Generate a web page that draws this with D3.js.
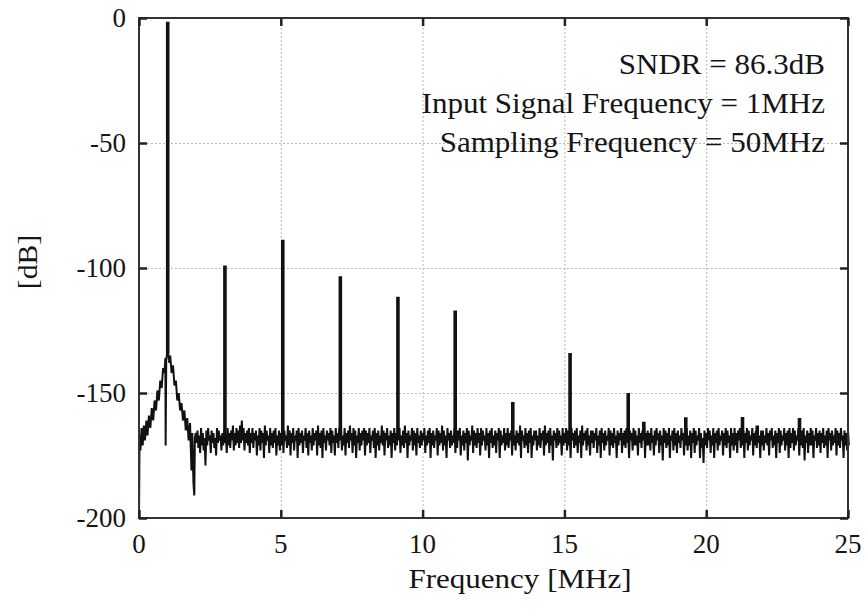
<!DOCTYPE html>
<html>
<head>
<meta charset="UTF-8">
<title>Spectrum</title>
<script src="https://d3js.org/d3.v7.min.js"></script>
<style>
  body { margin: 0; background: #fff; }
  svg text { font-family: "Liberation Serif", "Times New Roman", serif; fill: #151515; }
  .grid line { stroke: #b8b8b8; stroke-width: 1; stroke-dasharray: 2,2; }
  .grid path { display: none; }
</style>
</head>
<body>
<div id="chart"></div>
<script>
// axis ticks
const xTicks = [0, 5, 10, 15, 20, 25];
const yTicks = [0, -50, -100, -150, -200];

// low-frequency part around the input tone (MHz, dB)
const skirtFreq = [0, 0.02, 0.05, 0.09, 0.13, 0.17, 0.21, 0.26, 0.3, 0.35, 0.4, 0.45, 0.5, 0.55, 0.6, 0.65, 0.7, 0.75, 0.8, 0.85, 0.9, 0.93, 0.94, 0.96, 0.99,
  1.03, 1.07, 1.1, 1.15, 1.2, 1.25, 1.3, 1.35, 1.4, 1.45, 1.5, 1.55, 1.6, 1.65, 1.7, 1.75, 1.8, 1.85, 1.88, 1.92, 1.95, 1.97];
const skirtDb = [-200, -167, -173, -164, -171, -163, -169, -161, -167, -159, -164, -156, -161, -153, -157, -149, -153, -145, -148, -140, -142, -136, -171, -137, -134,
  -134, -138, -135, -142, -139, -147, -145, -153, -150, -157, -154, -161, -157, -165, -160, -169, -162, -181, -166, -186, -191, -168];

// noise floor from 2 MHz to 25 MHz, one bin every 0.0625 MHz:
// upper and lower excursion of the trace within each bin
const noiseStart = 2.0;
const noiseStep = 0.0625;
const noiseHigh = [
  -166,-165,-167,-164,-166,-168,-165,-164,-167,-165,-166,-168,-164,-165,-167,-166,
  -165,-167,-164,-166,-165,-163,-166,-164,-165,-163,-161,-164,-166,-165,-164,-166,
  -164,-166,-165,-167,-164,-165,-166,-163,-165,-167,-164,-166,-165,-164,-167,-165,
  -166,-164,-165,-167,-163,-165,-166,-164,-167,-165,-164,-166,-165,-167,-164,-166,
  -165,-167,-164,-166,-165,-163,-166,-165,-164,-167,-165,-166,-164,-165,-167,-164,
  -166,-164,-165,-167,-164,-166,-165,-163,-166,-164,-165,-167,-164,-166,-165,-164,
  -165,-166,-164,-167,-165,-164,-166,-165,-167,-163,-165,-166,-164,-167,-165,-166,
  -164,-166,-165,-164,-167,-165,-163,-166,-165,-167,-164,-165,-166,-164,-167,-165,
  -166,-164,-167,-165,-164,-166,-165,-167,-164,-165,-166,-163,-165,-167,-164,-166,
  -165,-167,-164,-166,-165,-164,-167,-165,-166,-164,-165,-167,-163,-165,-166,-164,
  -166,-164,-165,-167,-164,-166,-165,-164,-167,-165,-166,-164,-165,-167,-164,-166,
  -164,-166,-165,-164,-167,-165,-166,-163,-165,-167,-164,-166,-165,-164,-167,-165,
  -165,-167,-164,-166,-165,-163,-166,-165,-164,-167,-165,-166,-164,-165,-167,-164,
  -166,-164,-165,-167,-164,-166,-165,-164,-167,-165,-163,-166,-165,-164,-167,-165,
  -165,-166,-164,-167,-165,-164,-166,-165,-167,-164,-165,-166,-164,-167,-165,-166,
  -164,-166,-165,-164,-167,-165,-166,-164,-165,-167,-164,-166,-165,-163,-166,-165,
  -166,-164,-167,-165,-164,-166,-165,-167,-164,-165,-166,-164,-167,-165,-164,-166,
  -165,-167,-164,-166,-165,-164,-167,-165,-166,-164,-165,-167,-164,-166,-168,-165,
  -166,-164,-165,-167,-164,-166,-165,-164,-167,-165,-166,-164,-165,-167,-164,-166,
  -164,-166,-165,-164,-167,-165,-166,-164,-165,-167,-164,-166,-165,-164,-167,-165,
  -165,-167,-164,-166,-165,-164,-167,-165,-166,-164,-165,-167,-164,-166,-165,-164,
  -166,-164,-165,-167,-164,-166,-165,-164,-167,-165,-166,-164,-165,-167,-164,-166,
  -165,-166,-164,-167,-165,-164,-166,-165,-167,-164,-165,-166,-164,-167,-165,-166,
  -165
];
const noiseLow = [
  -170,-172,-174,-171,-173,-179,-171,-169,-174,-170,-172,-175,-170,-169,-173,-171,
  -170,-174,-171,-172,-169,-173,-171,-170,-172,-170,-169,-173,-170,-171,-174,-170,
  -172,-169,-175,-171,-173,-170,-176,-171,-169,-174,-171,-172,-170,-175,-171,-173,
  -171,-174,-169,-172,-171,-175,-170,-173,-169,-176,-171,-170,-174,-169,-172,-175,
  -170,-173,-171,-169,-175,-171,-172,-176,-170,-173,-169,-171,-174,-170,-175,-170,
  -172,-169,-173,-171,-175,-170,-172,-169,-174,-171,-176,-170,-173,-171,-169,-175,
  -171,-170,-174,-169,-172,-176,-171,-173,-170,-171,-175,-169,-172,-171,-176,-170,
  -173,-171,-169,-174,-171,-172,-170,-176,-171,-169,-173,-171,-175,-170,-172,-171,
  -169,-174,-171,-170,-176,-171,-172,-169,-175,-171,-170,-173,-171,-176,-169,-172,
  -171,-170,-174,-172,-169,-175,-171,-173,-170,-177,-171,-169,-174,-171,-172,-170,
  -175,-171,-169,-173,-171,-176,-170,-172,-171,-174,-169,-176,-171,-170,-173,-171,
  -172,-169,-175,-171,-173,-170,-171,-176,-169,-172,-171,-174,-170,-176,-171,-169,
  -173,-171,-172,-169,-175,-171,-170,-174,-171,-177,-169,-172,-171,-170,-175,-171,
  -170,-173,-171,-176,-169,-172,-171,-174,-170,-176,-171,-169,-173,-171,-175,-170,
  -172,-169,-174,-171,-176,-170,-173,-171,-169,-175,-171,-172,-170,-176,-171,-169,
  -174,-171,-172,-170,-176,-169,-173,-171,-171,-175,-170,-172,-169,-176,-171,-171,
  -173,-170,-175,-171,-169,-174,-171,-177,-170,-172,-171,-176,-169,-173,-171,-174,
  -170,-172,-169,-175,-171,-173,-171,-176,-170,-174,-171,-169,-176,-172,-178,-171,
  -172,-169,-174,-171,-176,-170,-173,-171,-169,-175,-171,-172,-170,-176,-171,-173,
  -171,-174,-169,-172,-171,-176,-170,-173,-171,-169,-175,-171,-172,-170,-176,-171,
  -173,-170,-171,-175,-169,-172,-171,-176,-170,-174,-171,-169,-173,-171,-176,-172,
  -170,-173,-171,-169,-175,-171,-172,-177,-170,-174,-171,-171,-176,-169,-172,-171,
  -174,-170,-172,-171,-176,-169,-173,-171,-170,-175,-171,-172,-169,-176,-171,-173,
  -171
];

// tone and spurs: frequency (MHz), top level (dB), base level (dB)
const toneFreq = [1.013, 3.03, 5.07, 7.1, 9.13, 11.15, 13.18, 15.2, 17.25, 17.8, 19.28, 21.28, 21.8, 23.29];
const toneTop  = [-1.5, -99, -88.7, -103.3, -111.5, -117, -153.6, -134, -150, -161.5, -159.7, -159.6, -163, -160];
const toneBase = [-134, -168, -168, -168, -168, -168, -168, -168, -168, -168, -168, -168, -168, -168];

const annotation = ["SNDR = 86.3dB", "Input Signal Frequency = 1MHz", "Sampling Frequency = 50MHz"];

const W = 868, H = 612;
const margin = {top: 18, right: 20, bottom: 94, left: 139};
const width = W - margin.left - margin.right;
const height = H - margin.top - margin.bottom;

const svg = d3.select("#chart").append("svg")
  .attr("width", W).attr("height", H);
const g = svg.append("g").attr("transform", `translate(${margin.left},${margin.top})`);

const x = d3.scaleLinear().domain([0, 25]).range([0, width]);
const y = d3.scaleLinear().domain([-200, 0]).range([height, 0]);

// grid
g.append("g").attr("class", "grid")
  .attr("transform", `translate(0,${height})`)
  .call(d3.axisBottom(x).tickValues(xTicks.slice(1, -1)).tickSize(-height).tickFormat(""));
g.append("g").attr("class", "grid")
  .call(d3.axisLeft(y).tickValues(yTicks.slice(1, -1)).tickSize(-width).tickFormat(""));

// spectrum trace: skirt, then for each noise bin its high and low excursion
const trace = skirtFreq.map((f, i) => ({f: f, v: skirtDb[i]}));
noiseHigh.forEach((v, i) => {
  const f = noiseStart + i * noiseStep;
  trace.push({f: f, v: v});
  trace.push({f: f + noiseStep / 2, v: noiseLow[i]});
});

const line = d3.line().x(d => x(d.f)).y(d => y(d.v));
g.append("path").datum(trace)
  .attr("fill", "none").attr("stroke", "#111").attr("stroke-width", 2)
  .attr("stroke-linejoin", "bevel")
  .attr("d", line);

g.selectAll(".tone").data(toneFreq).enter().append("line")
  .attr("class", "tone")
  .attr("x1", d => x(d)).attr("x2", d => x(d))
  .attr("y1", (d, i) => y(toneBase[i]))
  .attr("y2", (d, i) => y(toneTop[i]))
  .attr("stroke", "#111").attr("stroke-width", 3.6);

// frame
g.append("rect").attr("width", width).attr("height", height)
  .attr("fill", "none").attr("stroke", "#333").attr("stroke-width", 2);

// inward ticks on all sides
const tickLen = 8;
g.append("g").attr("transform", `translate(0,${height})`)
  .call(d3.axisBottom(x).tickValues(xTicks).tickSize(-tickLen).tickFormat(""))
  .call(a => a.select(".domain").remove());
g.append("g")
  .call(d3.axisTop(x).tickValues(xTicks).tickSize(-tickLen).tickFormat(""))
  .call(a => a.select(".domain").remove());
g.append("g")
  .call(d3.axisLeft(y).tickValues(yTicks).tickSize(-tickLen).tickFormat(""))
  .call(a => a.select(".domain").remove());
g.append("g").attr("transform", `translate(${width},0)`)
  .call(d3.axisRight(y).tickValues(yTicks).tickSize(-tickLen).tickFormat(""))
  .call(a => a.select(".domain").remove());
g.selectAll(".tick line").filter(function() { return !this.closest(".grid"); })
  .attr("stroke", "#222").attr("stroke-width", 2.5);

// tick labels
g.selectAll(".xlab").data(xTicks).enter().append("text")
  .attr("x", d => x(d)).attr("y", height + 35)
  .attr("text-anchor", "middle").attr("font-size", 27)
  .text(d => d);
g.selectAll(".ylab").data(yTicks).enter().append("text")
  .attr("x", -13).attr("y", d => y(d)).attr("dy", "0.33em")
  .attr("text-anchor", "end").attr("font-size", 27)
  .text(d => d);

// axis titles
svg.append("text")
  .attr("transform", `translate(520,${H - 24}) scale(1.15,1)`)
  .attr("text-anchor", "middle").attr("font-size", 27)
  .text("Frequency [MHz]");
svg.append("text")
  .attr("transform", `translate(37,262) rotate(-90) scale(1.1,1)`)
  .attr("text-anchor", "middle").attr("font-size", 27)
  .text("[dB]");

// annotation
g.selectAll(".note").data(annotation).enter().append("text")
  .attr("transform", (d, i) => `translate(${width - 23},${56 + i * 39}) scale(1.07,1)`)
  .attr("text-anchor", "end").attr("font-size", 29)
  .text(d => d);
</script>
</body>
</html>
